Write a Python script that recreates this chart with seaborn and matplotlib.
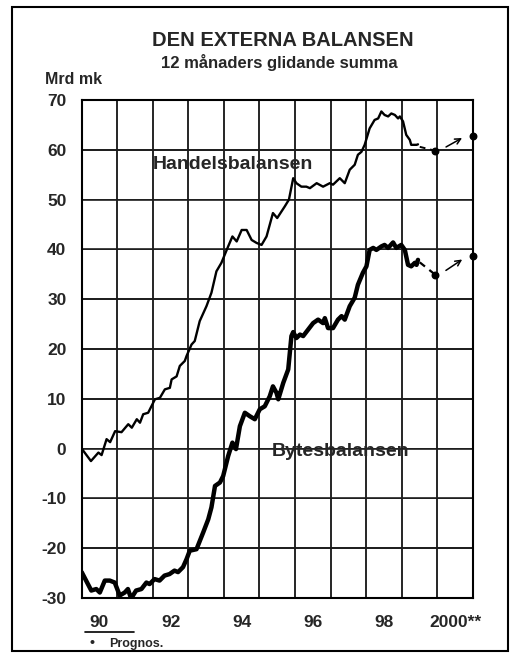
import numpy as np
import pandas as pd
import matplotlib
matplotlib.use("Agg")
import matplotlib.pyplot as plt
import seaborn as sns
from matplotlib.patches import Rectangle
from matplotlib.lines import Line2D

# Handelsbalansen, 12-month moving sum (Mrd mk), position in decimal years
handel_year = [1990.00, 1990.26, 1990.47, 1990.56, 1990.70, 1990.80, 1990.94, 1991.12,
               1991.31, 1991.41, 1991.55, 1991.64, 1991.73, 1991.87, 1992.06, 1992.20,
               1992.34, 1992.48, 1992.53, 1992.67, 1992.76, 1992.90, 1992.95, 1993.09,
               1993.18, 1993.32, 1993.51, 1993.65, 1993.79, 1993.93, 1994.12, 1994.24,
               1994.36, 1994.50, 1994.64, 1994.78, 1994.92, 1995.06, 1995.20, 1995.38,
               1995.50, 1995.71, 1995.83, 1995.95, 1996.04, 1996.18, 1996.32, 1996.42,
               1996.61, 1996.79, 1996.98, 1997.07, 1997.26, 1997.40, 1997.54, 1997.68,
               1997.77, 1997.87, 1997.96, 1998.10, 1998.24, 1998.34, 1998.43, 1998.52,
               1998.62, 1998.71, 1998.81, 1998.90, 1998.95, 1999.04, 1999.13, 1999.23,
               1999.27, 1999.42, 1999.46]
handel_val = [0.0, -2.5, -0.8, -1.3, 1.9, 1.3, 3.5, 3.3,
              4.9, 4.2, 5.9, 5.2, 6.9, 7.2, 9.9, 10.2,
              11.9, 12.2, 13.9, 14.5, 16.6, 17.6, 18.6, 20.9,
              21.6, 25.6, 28.6, 31.3, 35.6, 37.3, 40.6, 42.6,
              41.6, 43.9, 43.9, 41.9, 41.3, 40.9, 42.6, 47.3,
              46.3, 48.6, 50.0, 54.3, 53.3, 52.6, 52.6, 52.3,
              53.3, 52.6, 53.3, 53.0, 54.3, 53.3, 56.0, 57.0,
              59.0, 59.6, 61.0, 64.3, 66.0, 66.3, 67.7, 67.0,
              66.7, 67.3, 67.0, 66.3, 66.7, 65.7, 63.0, 62.0,
              61.0, 61.0, 61.1]

# Bytesbalansen, 12-month moving sum (Mrd mk)
bytes_year = [1990.00, 1990.08, 1990.27, 1990.41, 1990.51, 1990.65, 1990.79, 1990.93,
              1991.07, 1991.21, 1991.30, 1991.39, 1991.53, 1991.68, 1991.82, 1991.91,
              1992.05, 1992.19, 1992.33, 1992.47, 1992.61, 1992.71, 1992.85, 1992.95,
              1993.04, 1993.23, 1993.42, 1993.56, 1993.65, 1993.75, 1993.89, 1993.98,
              1994.12, 1994.24, 1994.34, 1994.45, 1994.59, 1994.73, 1994.87, 1995.01,
              1995.15, 1995.29, 1995.38, 1995.48, 1995.53, 1995.67, 1995.81, 1995.90,
              1995.95, 1996.04, 1996.14, 1996.23, 1996.37, 1996.51, 1996.65, 1996.79,
              1996.84, 1996.93, 1997.07, 1997.21, 1997.31, 1997.40, 1997.54, 1997.68,
              1997.77, 1997.91, 1998.01, 1998.10, 1998.20, 1998.29, 1998.43, 1998.52,
              1998.62, 1998.76, 1998.85, 1998.99, 1999.09, 1999.18, 1999.27, 1999.37,
              1999.42, 1999.46]
bytes_val = [-24.8, -25.9, -28.5, -28.2, -28.9, -26.5, -26.5, -26.9,
             -29.5, -28.9, -28.2, -30.1, -28.5, -28.2, -26.9, -27.2,
             -26.2, -26.5, -25.5, -25.2, -24.5, -24.8, -23.8, -22.2,
             -20.5, -20.2, -16.8, -14.2, -11.8, -7.5, -6.8, -5.5,
             -1.5, 1.2, -0.1, 4.5, 7.2, 6.5, 5.9, 7.9,
             8.5, 10.5, 12.5, 11.2, 9.9, 13.2, 15.9, 22.6,
             23.4, 22.2, 22.9, 22.6, 23.9, 25.2, 25.9, 25.2,
             26.2, 24.2, 24.2, 25.9, 26.6, 25.9, 28.6, 30.3,
             32.9, 35.3, 36.6, 39.9, 40.3, 39.9, 40.6, 40.9,
             40.3, 41.4, 40.3, 40.9, 39.9, 36.9, 36.6, 37.3,
             36.9, 37.9]

# Forecasts (Prognos) for 1999 and 2000
prog_year = [1999.95, 2001.0]
handel_prog = [59.8, 62.8]
bytes_prog = [34.9, 38.6]

x_labels = ["90", "92", "94", "96", "98", "2000**"]
grid_levels = [-20, -10, 0, 10, 20, 30, 40, 50, 60]

sns.set_style("white")
plt.rcParams["font.family"] = ["Liberation Sans", "DejaVu Sans"]
plt.rcParams["font.weight"] = "bold"
plt.rcParams["axes.unicode_minus"] = False

fig = plt.figure(figsize=(5.22, 6.61), dpi=100)
ax = fig.add_axes([0.1565, 0.0953, 0.7491, 0.7534])
ax.set_xlim(1990, 2001)
ax.set_ylim(-30, 70)

df_h = pd.DataFrame({"year": handel_year, "val": handel_val})
df_b = pd.DataFrame({"year": bytes_year, "val": bytes_val})
sns.lineplot(data=df_h, x="year", y="val", ax=ax, color="black", lw=1.7, sort=False)
sns.lineplot(data=df_b, x="year", y="val", ax=ax, color="black", lw=3.2, sort=False)

# dashed link to first forecast, dots, and arrows toward 2000
for yr, vals, prog, lw in [(handel_year, handel_val, handel_prog, 1.4),
                           (bytes_year, bytes_val, bytes_prog, 1.6)]:
    x0 = yr[-1] + 0.05
    ax.plot([x0, prog_year[0]], [vals[-1] - 0.5, prog[0]], color="black",
            lw=lw, ls=(0, (3, 2.5)))
    ax.scatter(prog_year, prog, s=22, color="black", zorder=5, clip_on=False)
    dx = prog_year[1] - prog_year[0]
    dy = prog[1] - prog[0]
    ax.annotate("", xy=(prog_year[0] + 0.78 * dx, prog[0] + 0.5 + 0.78 * dy),
                xytext=(prog_year[0] + 0.22 * dx, prog[0] + 0.2 + 0.1 * dy),
                arrowprops=dict(arrowstyle="->", color="black", lw=1.1))

ax.set_xlim(1990, 2001)
ax.set_ylim(-30, 70)

# grid: thin bands every 10 (horizontal), lines at year boundaries (vertical)
for h in grid_levels:
    ax.axhspan(h - 0.16, h + 0.16, color="#202020", lw=0, zorder=1.5)
    ax.axhline(h, color="#202020", lw=1.2, zorder=1.6)
for v in range(1991, 2001):
    ax.axvline(v, color="black", lw=1.2, zorder=1.5)

ax.set_xticks(np.arange(1990.5, 2001, 2))
ax.set_xticklabels(x_labels)
ax.tick_params(axis="x", length=0, pad=12, labelsize=12.5)
ax.set_yticks(np.arange(-30, 71, 10))
ax.set_yticks(np.arange(-25, 70, 10), minor=True)
ax.tick_params(axis="y", which="major", direction="out", length=7, width=1.2,
               labelsize=12.5, pad=4)
ax.tick_params(axis="y", which="minor", direction="in", length=5, width=1)
for lab in ax.get_xticklabels() + ax.get_yticklabels():
    lab.set_fontweight("bold")

for s in ax.spines.values():
    s.set_color("black")
    s.set_linewidth(1.5)
ax.set_xlabel("")
ax.set_ylabel("")

ax.text(1992.0, 57, "Handelsbalansen", fontsize=14, fontweight="bold", va="center",
        zorder=4)
ax.text(1995.35, -0.5, "Bytesbalansen", fontsize=14, fontweight="bold", va="center",
        zorder=4)

fig.text(0.541, 0.939, "DEN EXTERNA BALANSEN", ha="center", va="center",
         fontsize=14.5, fontweight="bold")
fig.text(0.535, 0.906, "12 månaders glidande summa", ha="center", va="center",
         fontsize=12, fontweight="bold")
fig.text(0.086, 0.879, "Mrd mk", ha="left", va="center", fontsize=11.5,
         fontweight="bold")

fig.add_artist(Line2D([0.163, 0.257], [0.044, 0.044], color="black", lw=1.2))
fig.text(0.172, 0.027, "•", fontsize=10, va="center", ha="left")
fig.text(0.21, 0.026, "Prognos.", fontsize=9, va="center", ha="left",
         fontweight="bold")

fig.add_artist(Rectangle((0.023, 0.015), 0.950, 0.975, fill=False,
                         edgecolor="black", lw=1.5, transform=fig.transFigure))

fig.savefig("out.png", dpi=100)
